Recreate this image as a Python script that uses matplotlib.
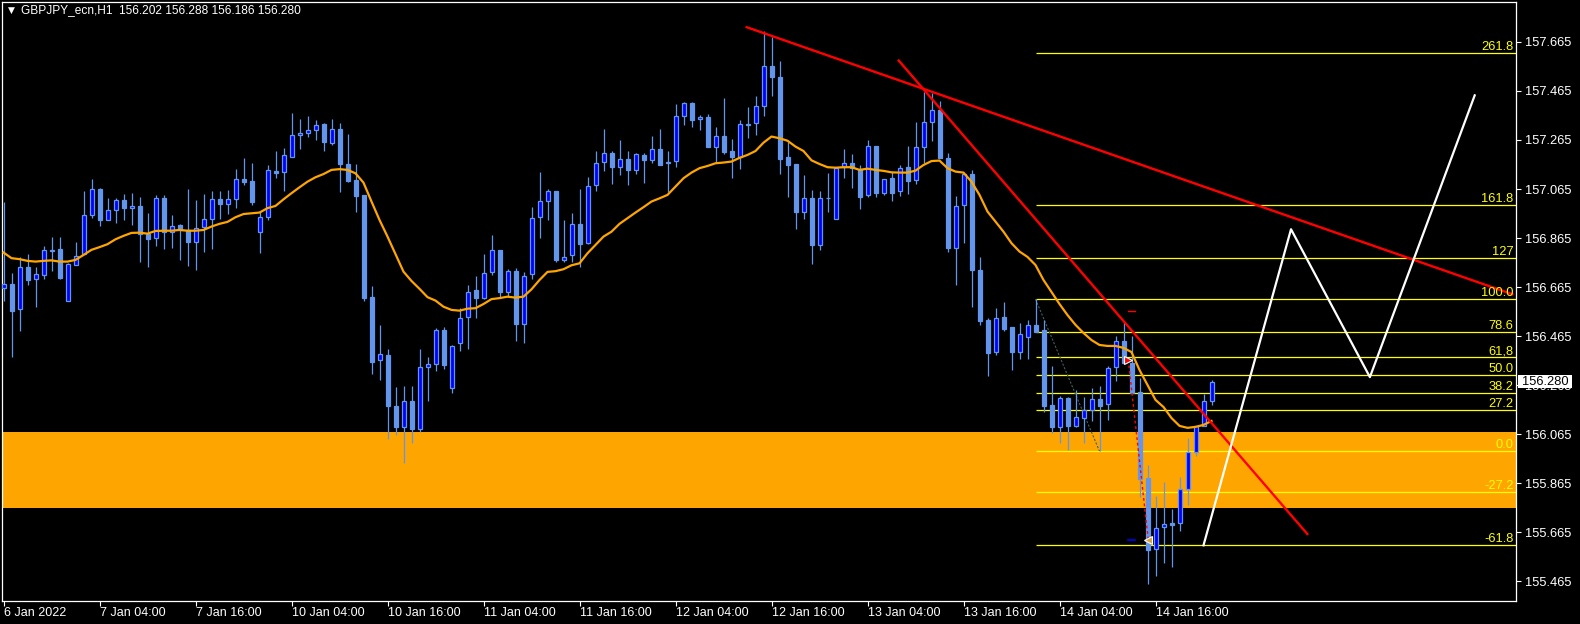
import matplotlib
matplotlib.use("Agg")
import matplotlib.pyplot as plt
from matplotlib.patches import Rectangle

# ---------------- data ----------------
symbol = "GBPJPY_ecn,H1"
header_ohlc = ["156.202", "156.288", "156.186", "156.280"]

opens = [156.661, 156.677, 156.575, 156.747, 156.697, 156.713, 156.815, 156.820, 156.608, 156.754,
         156.799, 156.958, 157.064, 156.940, 156.978, 157.019, 156.986, 156.994, 156.881, 156.864,
         157.027, 156.889, 156.917, 156.896, 156.850, 156.909, 156.942, 157.024, 157.005, 157.024,
         157.106, 157.098, 156.891, 156.952, 157.139, 157.133, 157.197, 157.284, 157.292, 157.304,
         157.330, 157.254, 157.308, 157.166, 157.102, 157.041, 156.625, 156.367, 156.388, 156.179,
         156.096, 156.200, 156.087, 156.339, 156.351, 156.491, 156.253, 156.436, 156.542, 156.653,
         156.620, 156.725, 156.815, 156.646, 156.730, 156.516, 156.717, 156.950, 157.015, 157.056,
         156.777, 156.795, 156.921, 156.846, 157.080, 157.174, 157.211, 157.156, 157.186, 157.144,
         157.204, 157.185, 157.227, 157.174, 157.180, 157.362, 157.415, 157.349, 157.358, 157.238,
         157.280, 157.220, 157.197, 157.329, 157.333, 157.402, 157.566, 157.521, 157.196, 157.166,
         156.973, 157.027, 156.838, 157.028, 156.942, 157.156, 157.170, 157.146, 157.040, 157.239,
         157.048, 157.109, 157.056, 157.154, 157.102, 157.235, 157.337, 157.386, 157.192, 156.826,
         156.999, 157.125, 156.734, 156.531, 156.402, 156.542, 156.503, 156.402, 156.460, 156.509,
         156.489, 156.183, 156.096, 156.212, 156.100, 156.133, 156.165, 156.209, 156.187, 156.338,
         156.445, 156.357, 156.236, 155.886, 155.596, 155.686, 155.703, 155.702, 155.841, 155.994,
         156.100, 156.202]
highs = [157.012, 156.721, 156.786, 156.800, 156.748, 156.831, 156.868, 156.868, 156.764, 156.849,
         157.057, 157.106, 157.068, 157.029, 157.029, 157.045, 157.049, 157.033, 156.967, 157.041,
         157.041, 156.959, 156.922, 157.065, 157.020, 157.045, 157.057, 157.057, 157.061, 157.147,
         157.191, 157.171, 156.977, 157.163, 157.220, 157.231, 157.375, 157.350, 157.363, 157.345,
         157.334, 157.350, 157.334, 157.288, 157.166, 157.041, 156.670, 156.510, 156.412, 156.258,
         156.262, 156.262, 156.412, 156.381, 156.499, 156.503, 156.429, 156.579, 156.673, 156.710,
         156.800, 156.878, 156.815, 156.738, 156.742, 156.725, 156.992, 157.135, 157.066, 157.056,
         156.939, 156.966, 157.065, 157.114, 157.220, 157.309, 157.220, 157.265, 157.220, 157.211,
         157.212, 157.281, 157.310, 157.220, 157.412, 157.421, 157.421, 157.366, 157.371, 157.318,
         157.436, 157.269, 157.347, 157.398, 157.444, 157.710, 157.686, 157.587, 157.258, 157.166,
         157.122, 157.060, 157.057, 157.130, 157.152, 157.228, 157.208, 157.163, 157.265, 157.239,
         157.105, 157.136, 157.163, 157.241, 157.337, 157.460, 157.456, 157.423, 157.211, 157.037,
         157.125, 157.141, 156.788, 156.541, 156.579, 156.604, 156.503, 156.519, 156.530, 156.616,
         156.530, 156.343, 156.220, 156.216, 156.244, 156.218, 156.254, 156.262, 156.342, 156.465,
         156.522, 156.466, 156.293, 155.939, 155.815, 155.871, 155.760, 155.890, 156.050, 156.100,
         156.231, 156.288]
lows = [156.609, 156.378, 156.484, 156.674, 156.582, 156.698, 156.732, 156.700, 156.608, 156.754,
        156.799, 156.946, 156.915, 156.940, 156.927, 156.940, 156.919, 156.768, 156.748, 156.834,
        156.821, 156.825, 156.776, 156.752, 156.736, 156.809, 156.821, 156.944, 156.963, 156.989,
        157.083, 157.001, 156.805, 156.940, 157.110, 157.057, 157.197, 157.228, 157.278, 157.265,
        157.221, 157.246, 157.054, 157.095, 156.971, 156.610, 156.312, 156.288, 156.045, 156.063,
        155.947, 156.031, 156.075, 156.202, 156.321, 156.333, 156.235, 156.406, 156.412, 156.537,
        156.616, 156.713, 156.626, 156.626, 156.447, 156.435, 156.697, 156.867, 156.940, 156.769,
        156.769, 156.769, 156.748, 156.842, 157.058, 157.140, 157.087, 157.124, 157.083, 157.128,
        157.091, 157.172, 157.164, 157.054, 157.156, 157.327, 157.319, 157.307, 157.238, 157.172,
        157.209, 157.111, 157.148, 157.274, 157.287, 157.364, 157.446, 157.128, 157.034, 156.901,
        156.944, 156.761, 156.818, 156.973, 156.942, 157.111, 157.071, 156.985, 157.034, 157.034,
        157.042, 157.017, 157.038, 157.046, 157.084, 157.170, 157.262, 157.192, 156.809, 156.675,
        156.846, 156.585, 156.512, 156.304, 156.390, 156.487, 156.325, 156.373, 156.373, 156.483,
        156.157, 156.071, 156.031, 156.002, 156.096, 156.031, 156.120, 155.996, 156.125, 156.283,
        156.357, 156.234, 155.810, 155.453, 155.488, 155.541, 155.524, 155.670, 155.776, 155.978,
        156.100, 156.186]
closes = [156.677, 156.569, 156.746, 156.695, 156.717, 156.815, 156.813, 156.703, 156.758, 156.793,
          156.958, 157.066, 156.940, 156.978, 157.019, 156.989, 156.994, 156.881, 156.862, 157.027,
          156.889, 156.915, 156.900, 156.850, 156.907, 156.942, 157.024, 157.005, 157.024, 157.105,
          157.095, 157.013, 156.950, 157.143, 157.132, 157.203, 157.284, 157.292, 157.304, 157.325,
          157.258, 157.308, 157.169, 157.099, 157.038, 156.622, 156.361, 156.392, 156.182, 156.096,
          156.200, 156.087, 156.339, 156.351, 156.491, 156.346, 156.424, 156.538, 156.647, 156.622,
          156.721, 156.815, 156.646, 156.730, 156.516, 156.709, 156.946, 157.015, 157.056, 156.777,
          156.789, 156.921, 156.842, 157.079, 157.170, 157.211, 157.156, 157.186, 157.144, 157.207,
          157.185, 157.227, 157.164, 157.171, 157.362, 157.415, 157.348, 157.358, 157.238, 157.280,
          157.217, 157.197, 157.329, 157.327, 157.402, 157.566, 157.523, 157.189, 157.164, 156.973,
          157.027, 156.838, 157.027, 157.027, 157.152, 157.170, 157.150, 157.034, 157.239, 157.048,
          157.105, 157.050, 157.150, 157.099, 157.235, 157.337, 157.386, 157.192, 156.826, 156.995,
          157.125, 156.736, 156.528, 156.398, 156.538, 156.495, 156.402, 156.473, 156.509, 156.483,
          156.182, 156.096, 156.212, 156.100, 156.137, 156.163, 156.208, 156.182, 156.334, 156.444,
          156.357, 156.234, 155.884, 155.594, 155.682, 155.698, 155.696, 155.841, 155.994, 156.100,
          156.200, 156.280]
ma_values = [156.806, 156.783, 156.779, 156.772, 156.769, 156.772, 156.774, 156.769, 156.769, 156.776,
             156.796, 156.817, 156.828, 156.840, 156.860, 156.874, 156.886, 156.887, 156.883, 156.894,
             156.895, 156.895, 156.898, 156.895, 156.895, 156.898, 156.912, 156.923, 156.931, 156.950,
             156.963, 156.966, 156.969, 156.987, 156.996, 157.023, 157.048, 157.072, 157.095, 157.113,
             157.126, 157.143, 157.146, 157.143, 157.129, 157.091, 157.014, 156.939, 156.871, 156.800,
             156.728, 156.690, 156.658, 156.624, 156.610, 156.585, 156.572, 156.569, 156.577, 156.579,
             156.596, 156.616, 156.620, 156.626, 156.622, 156.626, 156.656, 156.694, 156.727, 156.730,
             156.738, 156.754, 156.762, 156.803, 156.837, 156.871, 156.891, 156.923, 156.946, 156.969,
             156.991, 157.014, 157.027, 157.041, 157.075, 157.109, 157.132, 157.150, 157.159, 157.170,
             157.173, 157.177, 157.192, 157.204, 157.220, 157.254, 157.279, 157.272, 157.262, 157.238,
             157.220, 157.182, 157.167, 157.154, 157.152, 157.154, 157.154, 157.143, 157.148, 157.143,
             157.139, 157.133, 157.132, 157.132, 157.140, 157.163, 157.179, 157.181, 157.150, 157.136,
             157.132, 157.095, 157.041, 156.973, 156.932, 156.891, 156.844, 156.810, 156.788, 156.755,
             156.694, 156.645, 156.596, 156.551, 156.511, 156.478, 156.449, 156.429, 156.425, 156.425,
             156.417, 156.400, 156.327, 156.266, 156.205, 156.176, 156.131, 156.099, 156.091, 156.095,
             156.103, 156.119]

date_tick_bars = [0, 12, 24, 36, 48, 60, 72, 84, 96, 108, 120, 132, 144]
date_labels = ["6 Jan 2022", "7 Jan 04:00", "7 Jan 16:00", "10 Jan 04:00", "10 Jan 16:00",
               "11 Jan 04:00", "11 Jan 16:00", "12 Jan 04:00", "12 Jan 16:00", "13 Jan 04:00",
               "13 Jan 16:00", "14 Jan 04:00", "14 Jan 16:00"]
price_ticks = [157.665, 157.465, 157.265, 157.065, 156.865, 156.665,
               156.465, 156.265, 156.065, 155.865, 155.665, 155.465]
current_price = 156.280

zone_low, zone_high = 155.766, 156.074

fib_low, fib_high = 155.996, 156.616
fib_levels = [261.8, 161.8, 127.0, 100.0, 78.6, 61.8, 50.0, 38.2, 27.2, 0.0, -27.2, -61.8]
fib_labels = ["261.8", "161.8", "127", "100.0", "78.6", "61,8", "50.0", "38.2", "27.2",
              "0.0", "-27.2", "-61.8"]
fib_start_bar = 129
fib_end_bar = 137

trend1_x = [92.9, 188.6]
trend1_y = [157.725, 156.636]
trend2_x = [111.9, 162.98]
trend2_y = [157.589, 155.658]

proj_x = [150.0, 160.94, 170.8, 183.9]
proj_y = [155.612, 156.901, 156.298, 157.447]

trade_open_x, trade_open_y = 140.6, 156.368
trade_close_x, trade_close_y = 143.1, 155.633
sl_y, tp_y = 156.568, 155.633

# ---------------- layout ----------------
W, H = 1580, 624
L, R, T, B = 2, 1516, 2, 601      # plot frame in pixels
X0, PX = 3.5, 8.0                 # pixel of bar 0, pixels per bar
Y_REF, P_REF, PPU = 41.9, 157.665, 245.2

plt.rcParams['font.family'] = ['Liberation Sans', 'DejaVu Sans']

fig = plt.figure(figsize=(W / 100, H / 100), dpi=100, facecolor='black')
ax = fig.add_axes([L / W, 1 - B / H, (R - L) / W, (B - T) / H], facecolor='black')
ax.set_xlim((L - X0) / PX, (R - X0) / PX)
ax.set_ylim(P_REF - (B - Y_REF) / PPU, P_REF + (Y_REF - T) / PPU)

for s in ax.spines.values():
    s.set_color('white')
    s.set_linewidth(0.9)

# support zone
ax.axhspan(zone_low, zone_high, color='#FFA500', lw=0, zorder=1)

# fibonacci levels
rng = fib_high - fib_low
xr = (R - X0) / PX
for lev, lab in zip(fib_levels, fib_labels):
    pr = fib_low + rng * lev / 100.0
    ax.plot([fib_start_bar, xr], [pr, pr], color='#FFFF00', lw=0.9, zorder=2, solid_capstyle='butt')
    ax.text(1 - 2.5 / (R - L), pr, lab, transform=ax.get_yaxis_transform(), color='#FFFF00',
            ha='right', va='bottom', fontsize=9.3, zorder=6)
ax.plot([fib_start_bar, fib_end_bar], [fib_high, fib_low], color='#3d6060', lw=0.8,
        linestyle=(0, (2, 1.5)), zorder=2.5)

# candles
xs = list(range(len(opens)))
ax.vlines(xs, lows, highs, colors='#6495ED', linewidth=0.9, zorder=3)
bottoms = [min(o, c) for o, c in zip(opens, closes)]
heights = [max(abs(c - o), 0.0005) for o, c in zip(opens, closes)]
fills = ['#0000FF' if c > o else '#6495ED' for o, c in zip(opens, closes)]
ax.bar(xs, heights, bottom=bottoms, width=0.5, color=fills, edgecolor='#6495ED',
       linewidth=0.9, zorder=3.5)

# moving average
ax.plot(xs, ma_values, color='#FFA500', lw=1.6, zorder=4)

# trend lines
ax.plot(trend1_x, trend1_y, color='#FF0000', lw=1.7, zorder=5)
ax.plot(trend2_x, trend2_y, color='#FF0000', lw=1.7, zorder=5)
# projection zig-zag
ax.plot(proj_x, proj_y, color='white', lw=1.6, zorder=5)

# trade markers
ax.plot([trade_open_x, trade_close_x], [trade_open_y, trade_close_y], color='#FF0000',
        lw=1.0, linestyle=(0, (2, 2)), zorder=5)
ax.plot([trade_open_x - 0.1, trade_open_x + 0.8], [sl_y, sl_y], color='#FF0000', lw=1.0, zorder=5)
ax.plot([trade_open_x - 0.1, trade_open_x + 0.8], [tp_y, tp_y], color='#0000FF', lw=1.2, zorder=5)
ax.plot([trade_open_x], [trade_open_y], marker='>', ms=6, color='#FF0000', mec='white',
        mew=0.8, zorder=6)
ax.plot([trade_close_x], [trade_close_y], marker='<', ms=6, color='#D9A441', mec='white',
        mew=0.8, zorder=6)

# axes ticks
ax.yaxis.tick_right()
ax.set_yticks(price_ticks)
ax.set_yticklabels([f"{p:.3f}" for p in price_ticks])
ax.tick_params(axis='y', colors='white', length=3.5, width=0.8, pad=3, labelsize=9.3)
ax.set_xticks(date_tick_bars)
ax.set_xticklabels(date_labels, ha='left')
ax.tick_params(axis='x', colors='white', length=3.5, width=0.8, pad=1, labelsize=9)

# current price box
cy = Y_REF + (P_REF - current_price) * PPU
fig.patches.append(Rectangle((1518 / W, 1 - (cy + 6.8) / H), 54 / W, 13.5 / H,
                             transform=fig.transFigure, facecolor='white', edgecolor='none',
                             zorder=10))
fig.text(1522 / W, 1 - cy / H, f"{current_price:.3f}", color='black', fontsize=9.3,
         va='center', ha='left', zorder=11)

# header
fig.text(8 / W, 1 - 10.5 / H, "\u25BC", color='white', fontsize=6.5, va='center', ha='left',
         family='DejaVu Sans')
fig.text(21 / W, 1 - 10.5 / H, symbol + "  " + " ".join(header_ohlc), color='white',
         fontsize=8.6, va='center', ha='left')

fig.savefig("out.png", dpi=100, facecolor='black')
